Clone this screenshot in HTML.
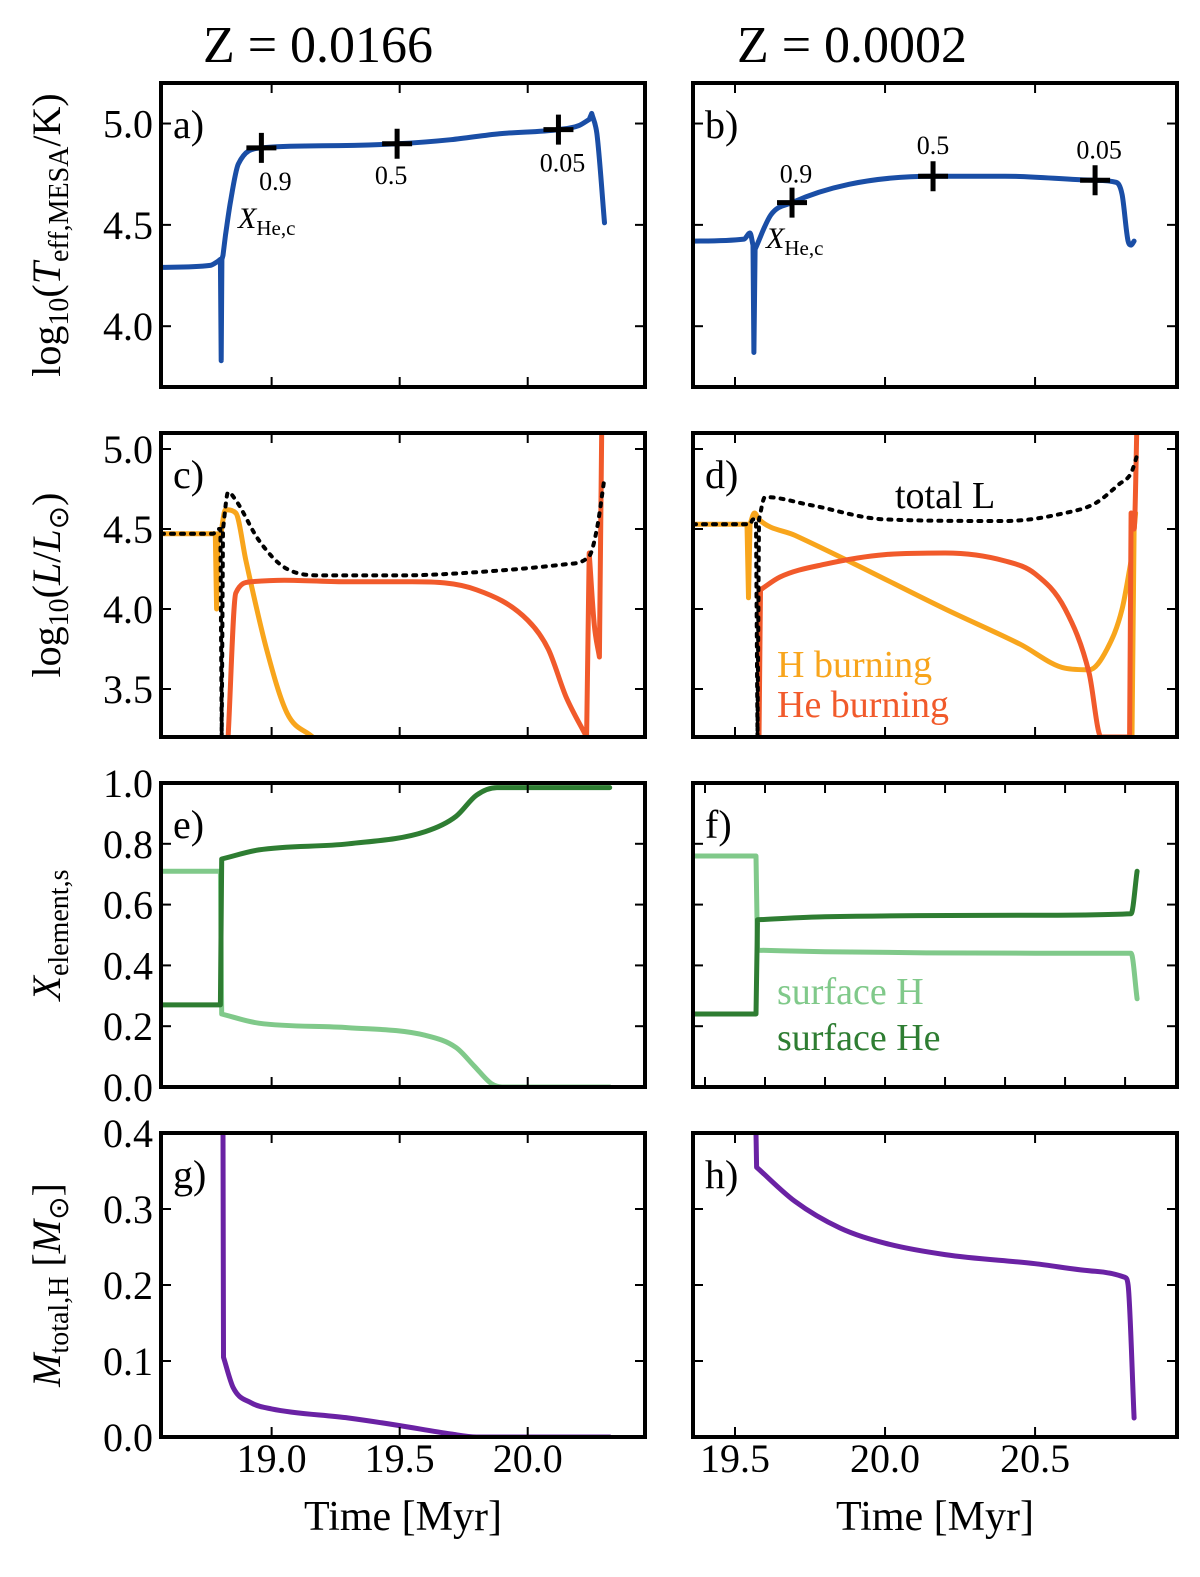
<!DOCTYPE html>
<html><head><meta charset="utf-8">
<style>
html,body{margin:0;padding:0;background:#fff;}
svg{display:block;font-family:"Liberation Serif",serif;}
</style></head>
<body>
<svg id="fig" width="1200" height="1577" viewBox="0 0 1200 1577" xmlns="http://www.w3.org/2000/svg">
<text x="318" y="62" font-size="52" text-anchor="middle">Z = 0.0166</text>
<text x="852" y="62" font-size="52" text-anchor="middle">Z = 0.0002</text>
<g transform="translate(60,235) rotate(-90)"><text font-size="40" text-anchor="middle">log<tspan font-size="28" dy="8">10</tspan><tspan dy="-8">(</tspan><tspan font-style="italic">T</tspan><tspan font-size="28" dy="8">eff,MESA</tspan><tspan dy="-8">/K)</tspan></text></g>
<g transform="translate(60,585) rotate(-90)"><text font-size="40" text-anchor="middle">log<tspan font-size="28" dy="8">10</tspan><tspan dy="-8">(</tspan><tspan font-style="italic">L</tspan>/<tspan font-style="italic">L</tspan><tspan font-size="28" dy="8">⊙</tspan><tspan dy="-8">)</tspan></text></g>
<g transform="translate(60,935) rotate(-90)"><text font-size="40" text-anchor="middle"><tspan font-style="italic">X</tspan><tspan font-size="28" dy="8">element,s</tspan></text></g>
<g transform="translate(60,1285) rotate(-90)"><text font-size="40" text-anchor="middle"><tspan font-style="italic">M</tspan><tspan font-size="28" dy="8">total,H</tspan><tspan dy="-8"> [</tspan><tspan font-style="italic">M</tspan><tspan font-size="28" dy="8">⊙</tspan><tspan dy="-8">]</tspan></text></g>
<text x="403" y="1530" font-size="42" text-anchor="middle">Time [Myr]</text>
<text x="935" y="1530" font-size="42" text-anchor="middle">Time [Myr]</text>
</svg>
<script>
// ---- data ----
const aT=[18.568,18.76,18.79,18.80,18.803,18.806,18.81,18.82,18.84,18.87,18.96,19.2,19.49,19.7,19.89,20.12,20.2,20.24,20.25,20.27,20.30];
const aV=[4.29,4.30,4.32,4.33,3.83,4.33,4.35,4.45,4.62,4.80,4.88,4.89,4.90,4.92,4.95,4.97,4.99,5.02,5.05,4.95,4.51];
const bT=[19.36,19.53,19.55,19.56,19.563,19.567,19.62,19.69,19.88,20.16,20.4,20.70,20.77,20.79,20.81,20.82,20.83];
const bV=[4.42,4.43,4.46,4.40,3.87,4.38,4.55,4.61,4.70,4.74,4.74,4.72,4.71,4.65,4.42,4.40,4.42];
const aMarkT=[18.96,19.49,20.12], aMarkV=[4.88,4.90,4.97], aMarkLbl=["0.9","0.5","0.05"];
const bMarkT=[19.69,20.16,20.70], bMarkV=[4.61,4.74,4.72], bMarkLbl=["0.9","0.5","0.05"];
const cTotT=[18.568,18.77,18.79,18.80,18.805,18.81,18.83,18.86,18.95,19.05,19.2,19.5,19.8,20.15,20.24,20.27,20.30];
const cTotV=[4.47,4.47,4.50,4.50,3.2,4.5,4.73,4.68,4.43,4.26,4.21,4.21,4.23,4.28,4.33,4.5,4.82];
const cHT=[18.568,18.78,18.785,18.79,18.80,18.82,18.86,18.90,18.98,19.06,19.16];
const cHV=[4.47,4.47,4.0,4.47,4.45,4.62,4.60,4.3,3.75,3.35,3.2];
const cHeT=[18.83,18.86,18.92,19.05,19.3,19.55,19.8,20.0,20.08,20.15,20.23,20.24,20.26,20.28,20.29,20.30];
const cHeV=[3.2,4.1,4.17,4.18,4.17,4.17,4.12,3.93,3.75,3.45,3.2,4.35,3.9,3.7,5.3,5.3];
const dTotT=[19.36,19.55,19.56,19.57,19.575,19.58,19.6,19.75,20.0,20.4,20.6,20.7,20.78,20.82,20.84];
const dTotV=[4.53,4.53,4.56,4.56,3.2,4.56,4.70,4.65,4.56,4.55,4.6,4.66,4.78,4.85,4.96];
const dHT=[19.36,19.54,19.545,19.55,19.565,19.58,19.7,19.9,20.2,20.45,20.6,20.68,20.74,20.79,20.82,20.823,20.83,20.835];
const dHV=[4.53,4.53,4.07,4.53,4.60,4.56,4.46,4.28,4.0,3.78,3.63,3.62,3.75,4.0,4.3,3.2,4.5,4.6];
const dHeT=[19.58,19.585,19.65,19.8,20.0,20.2,20.4,20.5,20.6,20.68,20.72,20.815,20.82,20.83,20.84];
const dHeV=[3.2,4.12,4.2,4.28,4.34,4.35,4.3,4.22,4.0,3.6,3.2,3.2,4.6,4.5,5.2];
const eHT=[18.568,18.80,18.805,18.95,19.3,19.6,19.72,19.79,19.86,19.90,20.32];
const eHV=[0.71,0.71,0.24,0.21,0.195,0.17,0.13,0.07,0.01,0.0,0.0];
const eHeT=[18.568,18.80,18.805,18.95,19.3,19.6,19.72,19.80,19.88,20.32];
const eHeV=[0.27,0.27,0.75,0.78,0.80,0.84,0.89,0.96,0.985,0.985];
const fHT=[19.36,19.57,19.575,19.8,20.5,20.82,20.84];
const fHV=[0.76,0.76,0.45,0.445,0.44,0.44,0.29];
const fHeT=[19.36,19.57,19.575,19.8,20.5,20.82,20.84];
const fHeV=[0.24,0.24,0.55,0.56,0.565,0.57,0.71];
const gT=[18.81,18.812,18.85,18.92,19.0,19.3,19.5,19.7,19.8,20.32];
const gV=[0.4,0.105,0.065,0.045,0.037,0.025,0.015,0.004,0.0,0.0];
const hT=[19.57,19.572,19.7,19.85,20.0,20.2,20.5,20.7,20.8,20.81,20.83];
const hV=[0.4,0.355,0.31,0.275,0.255,0.24,0.228,0.218,0.21,0.2,0.025];
const leftXTicks=[19.0,19.5,20.0], leftXLabels=["19.0","19.5","20.0"];
const rightXTicks=[19.5,20.0,20.5], rightXLabels=["19.5","20.0","20.5"];
const fXTicks=[19.4,19.6,19.8,20.0,20.2,20.4,20.6,20.8];
const teffTicks=[4.0,4.5,5.0], lumTicks=[3.5,4.0,4.5,5.0], xelTicks=[0,0.2,0.4,0.6,0.8,1.0], massTicks=[0,0.1,0.2,0.3,0.4];

const NS="http://www.w3.org/2000/svg";
const svg=document.getElementById('fig');
function mk(tag,attrs,parent){const e=document.createElementNS(NS,tag);for(const k in attrs)e.setAttribute(k,attrs[k]);(parent||svg).appendChild(e);return e;}
const rows=[[83,387],[433,737],[783,1087],[1133,1437]];
const cols=[[161,645,18.568,20.458],[693,1177,19.36,20.973]];
const yr=[[3.7,5.2],[3.2,5.1],[0,1],[0,0.4]];
function sx(c,t){const C=cols[c];return C[0]+(t-C[2])/(C[3]-C[2])*(C[1]-C[0]);}
function sy(r,v){const R=rows[r];return R[1]-(v-yr[r][0])/(yr[r][1]-yr[r][0])*(R[1]-R[0]);}
const names=[["panel-a-teff-left","panel-b-teff-right"],["panel-c-lum-left","panel-d-lum-right"],["panel-e-abund-left","panel-f-abund-right"],["panel-g-mass-left","panel-h-mass-right"]];
const letters=[["a)","b)"],["c)","d)"],["e)","f)"],["g)","h)"]];
const yTicks=[teffTicks,lumTicks,xelTicks,massTicks];
const panels=[];
for(let r=0;r<4;r++)for(let c=0;c<2;c++){
  const g=mk('g',{});
  
  
  const [x0,x1]=[cols[c][0],cols[c][1]],[y0,y1]=rows[r];
  const cp=mk('clipPath',{id:'cp'+r+c},g);mk('rect',{x:x0,y:y0,width:x1-x0,height:y1-y0},cp);
  const plot=mk('g',{'clip-path':'url(#cp'+r+c+')'},g);
  panels.push({g,plot,r,c});
  const xt=(r==2&&c==1)?fXTicks:(c==0?leftXTicks:rightXTicks);
  xt.forEach(t=>{const x=sx(c,t);mk('line',{x1:x,x2:x,y1:y1,y2:y1-10,stroke:'#000','stroke-width':2},g);mk('line',{x1:x,x2:x,y1:y0,y2:y0+10,stroke:'#000','stroke-width':2},g);});
  yTicks[r].forEach(v=>{const y=sy(r,v);mk('line',{x1:x0,x2:x0+10,y1:y,y2:y,stroke:'#000','stroke-width':2},g);mk('line',{x1:x1,x2:x1-10,y1:y,y2:y,stroke:'#000','stroke-width':2},g);
    if(c==0){const t=mk('text',{x:x0-8,y:y+14,'font-size':40,'text-anchor':'end'},g);t.textContent=v.toFixed(1);
      
      }});
  if(r==3){(c==0?leftXTicks:rightXTicks).forEach((t,i)=>{const tx=mk('text',{x:sx(c,t),y:1472,'font-size':40,'text-anchor':'middle'},g);tx.textContent=(c==0?leftXLabels:rightXLabels)[i];
    
    });}
  const lt=mk('text',{x:x0+12,y:y0+55,'font-size':40},g);lt.textContent=letters[r][c];
  
  
  const fr=mk('rect',{x:x0,y:y0,width:x1-x0,height:y1-y0,fill:'none',stroke:'#000','stroke-width':4},g);
  
  
}
// monotone cubic path; short (near-vertical) segments drawn straight
function smoothPath(X,Y){
  const n=X.length;
  const hs=[],d=[],m=new Array(n);
  for(let i=0;i<n-1;i++){const dx=X[i+1]-X[i];hs.push(dx);d.push(dx>1e-6?(Y[i+1]-Y[i])/dx:0);}
  const short=i=>hs[i]<3;
  for(let i=0;i<n;i++){
    const L=i>0&&!short(i-1), R=i<n-1&&!short(i);
    if(L&&R)m[i]=(d[i-1]*d[i]<=0)?0:(d[i-1]+d[i])/2;
    else if(L)m[i]=d[i-1]; else if(R)m[i]=d[i]; else m[i]=0;
  }
  for(let i=0;i<n-1;i++){if(short(i))continue;if(d[i]===0){m[i]=0;m[i+1]=0;continue;}const a=m[i]/d[i],b=m[i+1]/d[i],s=a*a+b*b;if(s>9){const t=3/Math.sqrt(s);m[i]=t*a*d[i];m[i+1]=t*b*d[i];}}
  let p='M'+X[0].toFixed(1)+','+Y[0].toFixed(1);
  for(let i=0;i<n-1;i++){const h=hs[i];
    if(short(i)){p+=' L'+X[i+1].toFixed(1)+','+Y[i+1].toFixed(1);continue;}
    p+=' C'+(X[i]+h/3).toFixed(1)+','+(Y[i]+m[i]*h/3).toFixed(1)+' '+(X[i+1]-h/3).toFixed(1)+','+(Y[i+1]-m[i+1]*h/3).toFixed(1)+' '+X[i+1].toFixed(1)+','+Y[i+1].toFixed(1);}
  return p;
}
function line(r,c,T,V,color,w,name,dash){
  const p=panels[r*2+c];
  const d=smoothPath(T.map(t=>sx(c,t)),V.map(v=>sy(r,v)));
  const a={d,fill:'none',stroke:color,'stroke-width':w,'stroke-linejoin':'round','stroke-linecap':'round'};
  if(dash)a['stroke-dasharray']=dash;
  const e=mk('path',a,p.plot);
  
  
}
const BLUE='#1a4ea6',ORG='#f8a51c',RED='#f15a2b',LG='#80c98a',DG='#2e7d32',PUR='#6a22a4';
line(0,0,aT,aV,BLUE,5,'teff-line-left');
line(0,1,bT,bV,BLUE,5,'teff-line-right');
line(1,0,cHT,cHV,ORG,5,'h-burning-line-left');
line(1,0,cHeT,cHeV,RED,5,'he-burning-line-left');
line(1,0,cTotT,cTotV,'#000',4,'total-l-line-left','3,7');
line(1,1,dHT,dHV,ORG,5,'h-burning-line-right');
line(1,1,dHeT,dHeV,RED,5,'he-burning-line-right');
line(1,1,dTotT,dTotV,'#000',4,'total-l-line-right','3,7');
line(2,0,eHT,eHV,LG,5,'surface-h-line-left');
line(2,0,eHeT,eHeV,DG,5,'surface-he-line-left');
line(2,1,fHT,fHV,LG,5,'surface-h-line-right');
line(2,1,fHeT,fHeV,DG,5,'surface-he-line-right');
line(3,0,gT,gV,PUR,5,'hydrogen-mass-line-left');
line(3,1,hT,hV,PUR,5,'hydrogen-mass-line-right');
function markers(c,T,V,L,offs){
  const p=panels[c];
  T.forEach((t,i)=>{const x=sx(c,t),y=sy(0,V[i]);
    const m=mk('path',{d:`M${x-15},${y}H${x+15}M${x},${y-15}V${y+15}`,stroke:'#000','stroke-width':5},p.g);
    
    
    const tx=mk('text',{x:x+offs[i][0],y:y+offs[i][1],'font-size':26,'text-anchor':'middle'},p.g);tx.textContent=L[i];
    
    });
}
markers(0,aMarkT,aMarkV,aMarkLbl,[[14,42],[-6,40],[4,42]]);
markers(1,bMarkT,bMarkV,bMarkLbl,[[4,-20],[0,-22],[4,-22]]);
function xhe(x,y,name){const t=mk('text',{x,y,'font-size':30},svg);t.innerHTML='<tspan font-style="italic">X</tspan><tspan font-size="21" dy="7">He,c</tspan>';
  
  }
xhe(238,228,'xhe-label-left');xhe(766,248,'xhe-label-right');
function leg(x,y,txt,col,name){const t=mk('text',{x,y,'font-size':38,fill:col},svg);t.textContent=txt;
  
  }
leg(895,508,'total L','#000','legend-total-l');
leg(777,677,'H burning',ORG,'legend-h-burning');
leg(777,717,'He burning',RED,'legend-he-burning');
leg(777,1004,'surface H',LG,'legend-surface-h');
leg(777,1050,'surface He',DG,'legend-surface-he');
</script>
</body></html>
